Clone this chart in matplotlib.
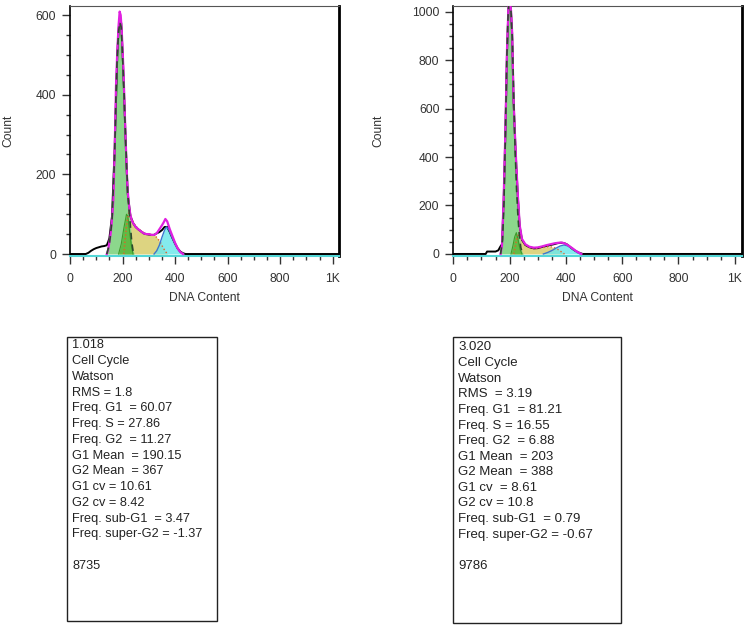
import numpy as np
import matplotlib
matplotlib.use('Agg')
import matplotlib.pyplot as plt
from matplotlib.patches import Rectangle

plt.rcParams['font.family'] = ['Liberation Sans', 'DejaVu Sans']

# ---- left histogram (sample 1) ----
left_data_x = [0, 60, 70, 80, 90, 100, 110, 120, 130, 140, 145, 150, 160, 170, 180, 185,
               190, 195, 200, 205, 210, 215, 220, 230, 240, 250, 260, 270, 280, 290, 300,
               310, 320, 330, 340, 350, 360, 370, 380, 390, 400, 410, 420, 430, 440, 1024]
left_data_y = [0, 0, 3, 8, 12, 15, 17, 19, 20, 22, 30, 40, 95, 265, 500, 565,
               590, 580, 510, 420, 320, 225, 150, 95, 78, 68, 62, 57, 52, 50, 49,
               48, 48, 52, 55, 60, 68, 68, 55, 40, 26, 14, 6, 2, 0, 0]
left_fit_x = [140, 145, 150, 155, 160, 165, 170, 175, 180, 185, 189, 193, 197, 203, 207,
              211, 215, 218, 222, 226, 230, 235, 240, 250, 260, 270, 280, 290, 300, 310,
              320, 330, 340, 350, 357, 363, 370, 380, 390, 400, 410, 420, 430]
left_fit_y = [0, 10, 30, 52, 90, 136, 260, 420, 510, 575, 609, 600, 560, 470, 390,
              303, 230, 178, 140, 115, 98, 85, 78, 68, 62, 57, 52, 50, 50, 48,
              48, 52, 62, 72, 80, 88, 82, 62, 45, 28, 14, 5, 0]
left_g1_x = [140, 150, 160, 170, 175, 180, 185, 190, 195, 200, 205, 210, 215, 220, 225,
             230, 235, 240, 245]
left_g1_y = [0, 25, 85, 250, 400, 500, 560, 582, 570, 500, 420, 320, 230, 150, 110,
             70, 30, 8, 0]
left_g1b_x = [185, 195, 205, 215, 220, 228, 235, 240]
left_g1b_y = [0, 25, 65, 100, 95, 50, 15, 0]
left_s_x = [205, 215, 225, 235, 245, 255, 265, 275, 285, 295, 305, 315, 325, 335, 345,
            355, 365, 372]
left_s_y = [0, 70, 110, 88, 75, 67, 61, 56, 52, 50, 49, 48, 45, 38, 28, 15, 5, 0]
left_g2_x = [320, 330, 340, 350, 360, 367, 375, 385, 395, 405, 415, 425, 432]
left_g2_y = [0, 8, 22, 42, 60, 68, 62, 47, 32, 18, 8, 2, 0]

# ---- right histogram (sample 2) ----
right_data_x = [0, 115, 120, 150, 160, 167, 173, 179, 185, 191, 196, 201, 205, 209, 214,
                219, 224, 230, 236, 244, 256, 270, 286, 300, 310, 320, 333, 345, 357,
                369, 380, 387, 395, 403, 411, 420, 428, 435, 445, 452, 460, 1024]
right_data_y = [0, 0, 10, 10, 15, 30, 40, 223, 498, 842, 1010, 1040, 1000, 911, 636,
                490, 360, 223, 113, 58, 37, 28, 23, 24, 27, 30, 33, 37, 40,
                44, 46, 46, 44, 40, 33, 24, 17, 12, 6, 3, 0, 0]
right_fit_x = [168, 173, 179, 185, 191, 196, 200, 205, 209, 214, 219, 224, 230, 236, 244,
               256, 270, 286, 300, 315, 330, 345, 360, 372, 385, 395, 405, 415, 425, 435,
               445, 455]
right_fit_y = [0, 35, 230, 505, 850, 1020, 1060, 1005, 915, 640, 495, 365, 228, 118, 62,
               40, 30, 26, 27, 31, 36, 40, 44, 46, 47, 44, 38, 30, 22, 13,
               6, 0]
right_g1_x = [168, 175, 180, 185, 190, 195, 200, 205, 210, 215, 220, 225, 230, 235, 240,
              245, 250]
right_g1_y = [0, 60, 210, 490, 800, 1000, 1060, 1000, 880, 630, 420, 260, 150, 70, 25,
              6, 0]
right_g1b_x = [205, 212, 218, 224, 230, 237, 244]
right_g1b_y = [0, 35, 70, 88, 60, 20, 0]
right_s_x = [215, 225, 235, 245, 255, 265, 280, 295, 310, 325, 340, 355, 370, 385, 395]
right_s_y = [0, 60, 90, 58, 40, 32, 25, 23, 25, 28, 30, 28, 20, 8, 0]
right_g2_x = [320, 335, 350, 365, 380, 393, 405, 418, 430, 440, 450]
right_g2_y = [0, 6, 14, 24, 33, 37, 34, 26, 15, 6, 0]

tick_vals = [0, 200, 400, 600, 800, 1000]
tick_labels = ['0', '200', '400', '600', '800', '1K']

left_stats = ['1.018', 'Cell Cycle', 'Watson', 'RMS = 1.8', 'Freq. G1  = 60.07',
              'Freq. S = 27.86', 'Freq. G2  = 11.27', 'G1 Mean  = 190.15',
              'G2 Mean  = 367', 'G1 cv = 10.61', 'G2 cv = 8.42',
              'Freq. sub-G1  = 3.47', 'Freq. super-G2 = -1.37', '', '8735']
right_stats = ['3.020', 'Cell Cycle', 'Watson', 'RMS  = 3.19', 'Freq. G1  = 81.21',
               'Freq. S = 16.55', 'Freq. G2  = 6.88', 'G1 Mean  = 203',
               'G2 Mean  = 388', 'G1 cv  = 8.61', 'G2 cv = 10.8',
               'Freq. sub-G1  = 0.79', 'Freq. super-G2 = -0.67', '', '9786']

W, H = 751, 627
fig = plt.figure(figsize=(W / 100, H / 100), dpi=100)


def px_box(x0, y0, x1, y1):
    # pixel box (top-left origin) -> figure fraction rect
    return [x0 / W, 1 - y1 / H, (x1 - x0) / W, (y1 - y0) / H]


def draw_hist(ax, dx, dy, fx, fy, g1x, g1y, g1bx, g1by, sx, sy, g2x, g2y, ymax, ymin, yticks):
    ax.fill_between(sx, 0, sy, color='#dcd27a', alpha=0.95, lw=0, zorder=2)
    ax.plot(sx, sy, color='#e0602a', lw=1.0, ls=':', zorder=6)
    ax.fill_between(g2x, 0, g2y, color='#6ee8ea', alpha=0.85, lw=0, zorder=3)
    ax.plot(g2x, g2y, color='#3a78d0', lw=1.0, zorder=6)
    ax.fill_between(g1x, 0, g1y, color='#86d586', alpha=0.95, lw=0, zorder=3)
    ax.fill_between(g1bx, 0, g1by, color='#5cb83e', alpha=0.9, lw=0, zorder=4)
    ax.plot(g1bx, g1by, color='#3f9a2a', lw=0.8, zorder=4)
    ax.plot(dx, dy, color='black', lw=1.4, zorder=5)
    ax.plot(fx, fy, color='#e020e0', lw=1.6, zorder=6)
    ax.plot(g1x, g1y, color='#2d4a2d', lw=1.2, ls=(0, (4, 3)), zorder=7)

    ax.set_xlim(0, 1024)
    ax.set_ylim(ymin, ymax)
    ax.set_xticks(tick_vals)
    ax.set_xticklabels(tick_labels)
    ax.set_xticks(np.arange(0, 1025, 50), minor=True)
    ax.set_yticks(yticks)
    ax.set_yticks(np.arange(0, ymax, 50), minor=True)
    ax.tick_params(which='major', direction='out', length=6, width=1, color='#333',
                   labelsize=8.7, labelcolor='#333', pad=4)
    ax.tick_params(axis='x', which='major', pad=6)
    ax.tick_params(which='minor', direction='out', length=3, width=1, color='#333')
    ax.spines['left'].set_linewidth(1.2)
    ax.spines['right'].set_linewidth(2)
    ax.spines['top'].set_linewidth(0.8)
    ax.spines['top'].set_color('#555')
    ax.spines['bottom'].set_color('#52d6d6')
    ax.spines['bottom'].set_linewidth(1.5)
    ax.set_xlabel('DNA Content', fontsize=8.7, color='#333', labelpad=5)
    ax.set_ylabel('Count', fontsize=8.7, color='#333')


ax1 = fig.add_axes(px_box(70, 6, 339, 256.4))
draw_hist(ax1, left_data_x, left_data_y, left_fit_x, left_fit_y, left_g1_x, left_g1_y,
          left_g1b_x, left_g1b_y, left_s_x, left_s_y, left_g2_x, left_g2_y,
          623, -6, [0, 200, 400, 600])

ax2 = fig.add_axes(px_box(453.3, 6, 741.5, 255.9))
draw_hist(ax2, right_data_x, right_data_y, right_fit_x, right_fit_y, right_g1_x, right_g1_y,
          right_g1b_x, right_g1b_y, right_s_x, right_s_y, right_g2_x, right_g2_y,
          1023, -8, [0, 200, 400, 600, 800, 1000])
ax1.yaxis.set_label_coords(-0.205, 0.5)
ax2.yaxis.set_label_coords(-0.24, 0.5)


def stat_box(x0, y0, x1, y1, lines, tx, ty, step, size):
    fig.patches.append(Rectangle((x0 / W, 1 - y1 / H), (x1 - x0) / W, (y1 - y0) / H,
                                 transform=fig.transFigure, fill=False,
                                 edgecolor='#222', lw=1))
    for i, s in enumerate(lines):
        fig.text(tx / W, 1 - (ty + i * step) / H, s, fontsize=size, color='#222',
                 ha='left', va='center')


stat_box(67.3, 337, 217, 621, left_stats, 72.3, 345.5, 15.75, 9.2)
stat_box(453.3, 337, 620.7, 623, right_stats, 458.3, 347.5, 15.6, 9.5)

fig.savefig('out.png', dpi=100)
